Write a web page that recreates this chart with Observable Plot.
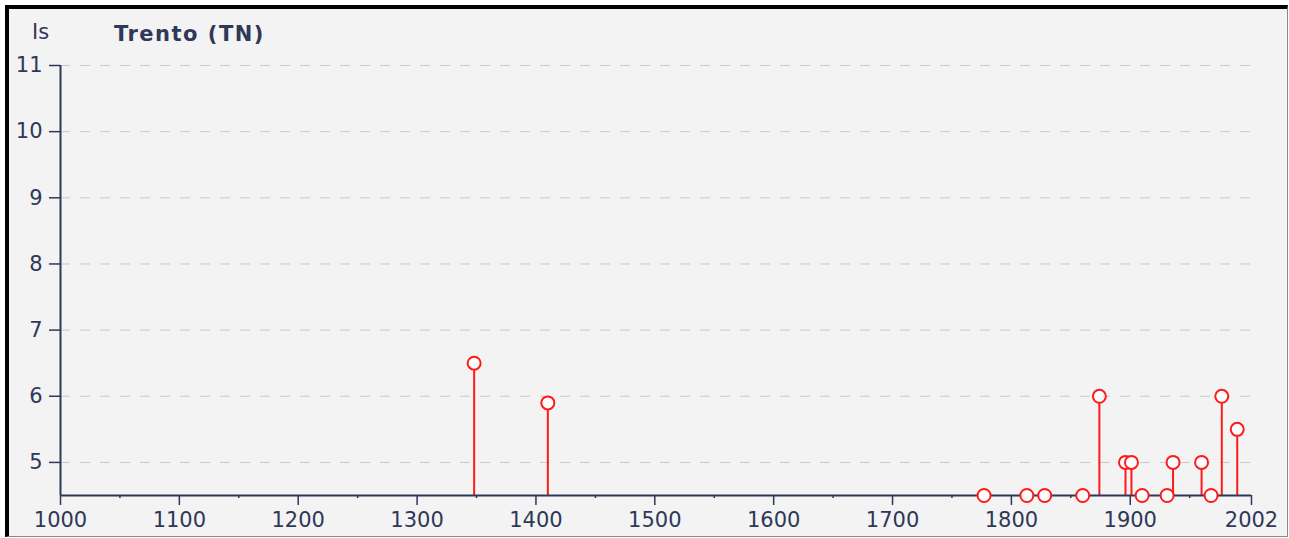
<!DOCTYPE html>
<html>
<head>
<meta charset="utf-8">
<script src="https://cdn.jsdelivr.net/npm/d3@7"></script>
<script src="https://cdn.jsdelivr.net/npm/@observablehq/plot@0.6"></script>
<style>
  html, body { margin: 0; padding: 0; background: #ffffff; }
  #frame {
    position: absolute; left: 5px; top: 5px;
    width: 1278px; height: 527px;
    background: #f3f3f3;
    border-left: 4px solid #000; border-top: 4px solid #000;
    border-right: 1px solid #8a8a8a; border-bottom: 1px solid #8a8a8a;
    font-family: "DejaVu Sans", Verdana, sans-serif;
    color: #2f3858;
  }
  #unit { position: absolute; left: 23px; top: 11px; font-size: 21px; }
  #title { position: absolute; left: 105px; top: 13px; font-size: 21px; font-weight: bold; letter-spacing: 1.5px; }
  #chart { position: absolute; left: 0; top: 0; }
</style>
</head>
<body>
<div id="frame">
  <div id="chart"></div>
  <div id="unit">Is</div>
  <div id="title">Trento (TN)</div>
</div>
<script>
const years  = [1348, 1410, 1777, 1813, 1828, 1860, 1874, 1896, 1901, 1910, 1931, 1936, 1960, 1968, 1977, 1990];
const values = [6.5, 5.9, 4.5, 4.5, 4.5, 4.5, 6.0, 5.0, 5.0, 4.5, 4.5, 5.0, 5.0, 4.5, 6.0, 5.5];
const xTicks = [1000, 1100, 1200, 1300, 1400, 1500, 1600, 1700, 1800, 1900, 2002];
const xMinorTicks = [1050, 1150, 1250, 1350, 1450, 1550, 1650, 1750, 1850, 1950];
const yTicks = [5, 6, 7, 8, 9, 10, 11];
const xDomain = [1000, 2002];
const yDomain = [4.5, 11];

const data = years.map((y, i) => ({year: y, value: values[i]}));
const ink = "#2f3858";

const chart = Plot.plot({
  width: 1278,
  height: 527,
  marginLeft: 51,
  marginRight: 36,
  marginTop: 56,
  marginBottom: 41,
  style: {background: "transparent", fontFamily: "DejaVu Sans, Verdana, sans-serif", fontSize: "21px", color: ink},
  x: {domain: xDomain, label: null},
  y: {domain: yDomain, label: null},
  marks: [
    Plot.ruleY(yTicks, {y: d => d, x1: xDomain[0], x2: xDomain[1], stroke: "#c9c9cf", strokeWidth: 1, strokeDasharray: "10,10"}),
    Plot.axisX({ticks: xMinorTicks, tickSize: 3, tickFormat: () => "", label: null, stroke: ink, strokeWidth: 1.5}),
    Plot.axisX({ticks: xTicks, tickSize: 10, tickPadding: 7, tickFormat: d => String(d), label: null, fill: ink, stroke: ink, strokeWidth: 1.5, fontSize: 21}),
    Plot.axisY({ticks: yTicks, tickSize: 11, tickPadding: 7, tickFormat: d => String(d), label: null, fill: ink, stroke: ink, strokeWidth: 1.5, fontSize: 21}),
    Plot.ruleX(data, {x: "year", y1: yDomain[0], y2: "value", stroke: "#ff1a1a", strokeWidth: 2}),
    Plot.ruleX([xDomain[0]], {y1: yDomain[0], y2: yDomain[1], stroke: ink, strokeWidth: 2}),
    Plot.ruleY([yDomain[0]], {x1: xDomain[0], x2: xDomain[1], stroke: ink, strokeWidth: 2}),
    Plot.dot(data, {x: "year", y: "value", r: 6.5, fill: "white", stroke: "#ff1a1a", strokeWidth: 2})
  ]
});
document.getElementById("chart").appendChild(chart);
</script>
</body>
</html>
